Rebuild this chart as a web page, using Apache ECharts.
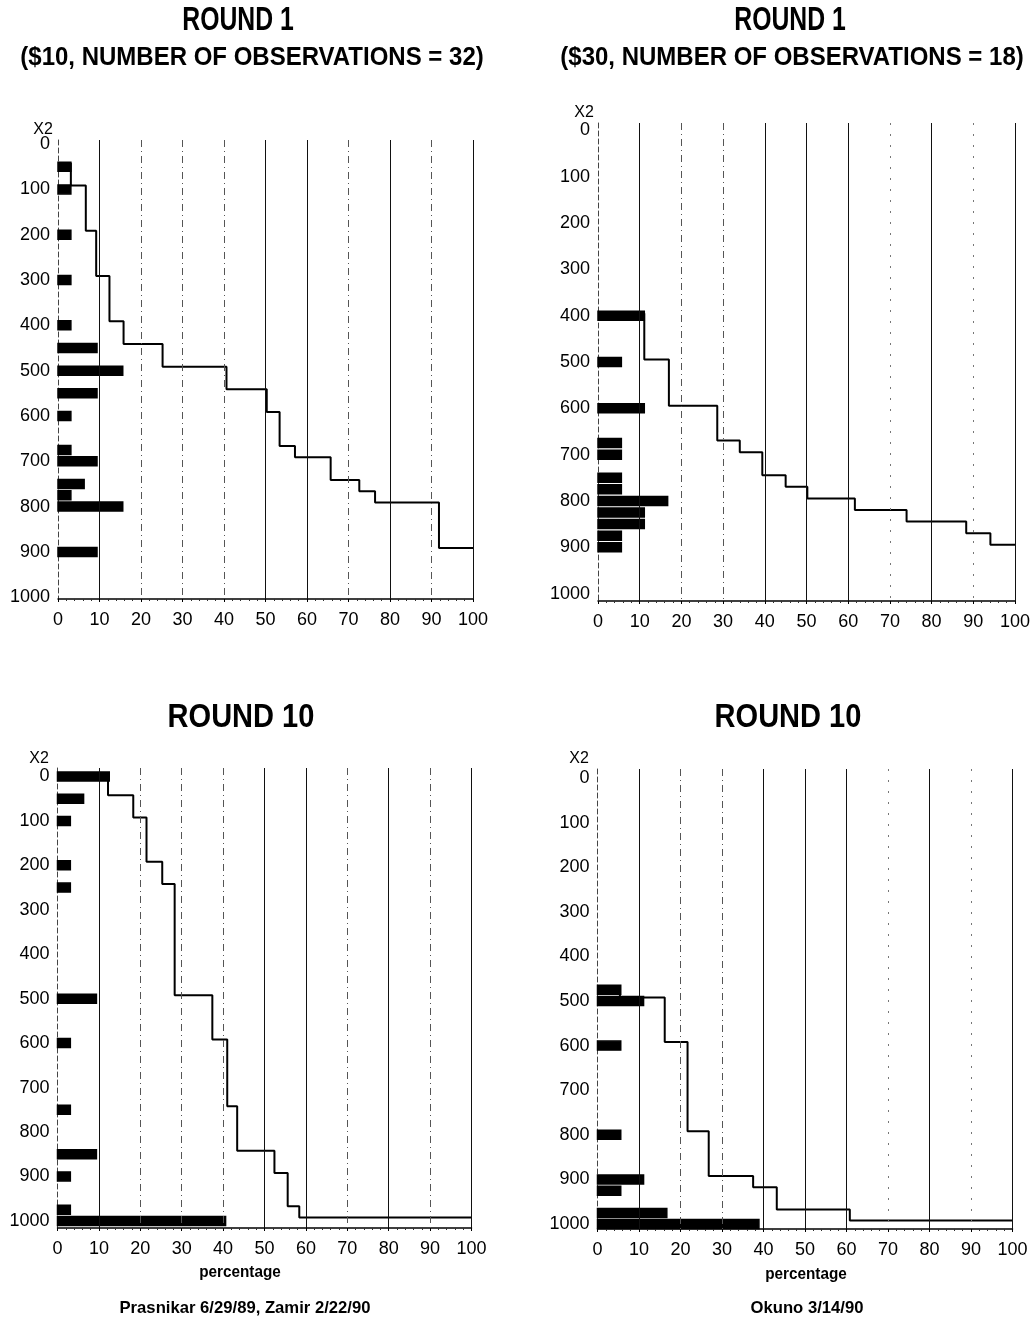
<!DOCTYPE html>
<html>
<head>
<meta charset="utf-8">
<script src="https://cdn.jsdelivr.net/npm/echarts@6/dist/echarts.min.js"></script>
<style>
  html, body { margin: 0; padding: 0; background: #fff; }
  #chart { width: 1033px; height: 1318px; }
</style>
</head>
<body>
<div id="chart"></div>
<script>
// Horizontal axis: percentage of observations
const pctTicks = [0, 10, 20, 30, 40, 50, 60, 70, 80, 90, 100];
// Vertical axis: amount offered to player 2 (x2)
const offerTicks = [0, 100, 200, 300, 400, 500, 600, 700, 800, 900, 1000];

// Round 1, $10 stakes (32 observations)
const r1LowOffers = [50, 100, 200, 300, 400, 450, 500, 550, 600, 675, 700, 750, 775, 800, 900];
const r1LowShare  = [3.1, 3.1, 3.1, 3.1, 3.1, 9.4, 15.6, 9.4, 3.1, 3.1, 9.4, 6.3, 3.1, 15.6, 9.4];
const r1LowCum    = [3.1, 6.7, 9.2, 12.4, 15.8, 25.2, 40.6, 50.3, 53.4, 57.1, 65.7, 72.6, 76.4, 91.8, 100];

// Round 1, $30 stakes (18 observations)
const r1HighOffers = [400, 500, 600, 675, 700, 750, 775, 800, 825, 850, 875, 900];
const r1HighShare  = [11.1, 5.6, 11.1, 5.6, 5.6, 5.6, 5.6, 16.7, 11.1, 11.1, 5.6, 5.6];
const r1HighCum    = [11.1, 17.0, 28.6, 34.0, 39.4, 45.0, 50.2, 61.6, 74.0, 88.3, 94.1, 100];

// Round 10, $10 stakes
const r10LowOffers = [0, 50, 100, 200, 250, 500, 600, 750, 850, 900, 975, 1000];
const r10LowShare  = [12.5, 6.3, 3.1, 3.1, 3.1, 9.4, 3.1, 3.1, 9.4, 3.1, 3.1, 40.6];
const r10LowCum    = [12.2, 18.3, 21.5, 25.3, 28.3, 37.4, 41.0, 43.4, 52.4, 55.6, 58.4, 100];

// Round 10, $30 stakes
const r10HighOffers = [475, 500, 600, 800, 900, 925, 975, 1000];
const r10HighShare  = [5.6, 11.1, 5.6, 5.6, 11.1, 5.6, 16.7, 38.9];
const r10HighCum    = [5.4, 16.2, 21.7, 26.8, 37.5, 43.2, 60.8, 100];

const FONT = '"Liberation Sans", "DejaVu Sans", sans-serif';

// Panel layout: plot box, vertical range, gridline styles
const panels = [
  { offers: r1LowOffers, share: r1LowShare, cum: r1LowCum,
    box: { left: 58, top: 140, width: 415, height: 459 }, yMin: -9, yMax: 1004, shift: 4,
    solid: [10, 50, 60, 80, 100], dashed: [20, 30, 40, 70, 90], sparse: [] },
  { offers: r1HighOffers, share: r1HighShare, cum: r1HighCum,
    box: { left: 598, top: 123, width: 417, height: 478 }, yMin: -16, yMax: 1016, shift: 2.5,
    solid: [10, 40, 50, 60, 80, 100], dashed: [20, 30], sparse: [70, 90] },
  { offers: r10LowOffers, share: r10LowShare, cum: r10LowCum,
    box: { left: 57.5, top: 768, width: 414, height: 460 }, yMin: -19, yMax: 1016, shift: 3.5,
    solid: [10, 50, 60, 80, 100], dashed: [20, 30, 40, 70, 90], sparse: [] },
  { offers: r10HighOffers, share: r10HighShare, cum: r10HighCum,
    box: { left: 597.5, top: 769, width: 415, height: 460 }, yMin: -20, yMax: 1011, shift: 3.5,
    solid: [10, 40, 50, 60, 80, 100], dashed: [20, 30], sparse: [70, 90] }
];

const grid = [], xAxis = [], yAxis = [], series = [];

panels.forEach((p, i) => {
  grid.push(Object.assign({ containLabel: false, outerBoundsMode: 'none' }, p.box));

  xAxis.push({
    gridIndex: i, type: 'value', min: pctTicks[0], max: pctTicks[pctTicks.length - 1], interval: 10,
    axisLine: { show: true, onZero: false, lineStyle: { color: '#000', width: 1.5 } },
    axisTick: { show: true, length: 3, lineStyle: { color: '#000' } },
    minorTick: { show: true, splitNumber: 5, length: 2, lineStyle: { color: '#333' } },
    splitLine: { show: false },
    axisLabel: { color: '#000', fontSize: 18, fontFamily: FONT, margin: 12 }
  });

  // bars and tick labels
  yAxis.push({
    gridIndex: i, type: 'value', inverse: true, min: p.yMin, max: p.yMax,
    axisLine: { show: true, onZero: false, lineStyle: { color: '#444', width: 1, type: [5, 3] } },
    axisTick: { show: false },
    splitLine: { show: false },
    axisLabel: { customValues: offerTicks, formatter: v => String(v),
                 color: '#000', fontSize: 18, fontFamily: FONT, margin: 8 }
  });
  // step line sits a few pixels above the bar centres
  const d = p.shift * (p.yMax - p.yMin) / p.box.height;
  yAxis.push({
    gridIndex: i, type: 'value', inverse: true, min: p.yMin + d, max: p.yMax + d, show: false
  });

  const gridLines = []
    .concat(p.solid.map(v => ({ xAxis: v, lineStyle: { type: 'solid', color: '#111', width: 1 } })))
    .concat(p.dashed.map(v => ({ xAxis: v, lineStyle: { type: [7, 4, 1, 4], color: '#555', width: 1 } })))
    .concat(p.sparse.map(v => ({ xAxis: v, lineStyle: { type: [2, 9], color: '#777', width: 1 } })));

  series.push({
    type: 'custom', xAxisIndex: i, yAxisIndex: 2 * i, z: 3,
    data: p.offers.map((o, k) => [p.share[k], o]),
    encode: { x: 0, y: 1 },
    renderItem: (params, api) => {
      const y = api.value(1);
      const a = api.coord([0, y]);
      const b = api.coord([api.value(0), y]);
      return {
        type: 'rect',
        shape: { x: a[0], y: a[1] - 4.5, width: b[0] - a[0], height: 9 },
        style: { fill: '#000', stroke: '#000', lineWidth: 1.5 }
      };
    },
    markLine: {
      silent: true, symbol: ['none', 'none'], label: { show: false },
      animation: false, data: gridLines
    }
  });

  series.push({
    type: 'line', xAxisIndex: i, yAxisIndex: 2 * i + 1, z: 4,
    step: 'start', symbol: 'none', clip: false,
    data: p.cum.map((c, k) => [c, p.offers[k]]),
    lineStyle: { color: '#000', width: 2 }
  });
});

// centred text; sx narrows the glyphs horizontally
function txt(x, y, text, font, sx) {
  return { type: 'text', x: x, y: y, scaleX: sx || 1,
           style: { text: text, font: font, fill: '#000', align: 'center', verticalAlign: 'middle' } };
}

const graphic = [
  txt(238, 21, 'ROUND 1', 'bold 33px ' + FONT, 0.75),
  txt(252, 58, '($10, NUMBER OF OBSERVATIONS = 32)', 'bold 25px ' + FONT, 0.96),
  txt(790, 21, 'ROUND 1', 'bold 33px ' + FONT, 0.75),
  txt(792, 58, '($30, NUMBER OF OBSERVATIONS = 18)', 'bold 25px ' + FONT, 0.96),
  txt(241, 718, 'ROUND 10', 'bold 33px ' + FONT, 0.88),
  txt(788, 718, 'ROUND 10', 'bold 33px ' + FONT, 0.88),
  txt(43, 130, 'X2', '16px ' + FONT),
  txt(584, 113, 'X2', '16px ' + FONT),
  txt(39, 759, 'X2', '16px ' + FONT),
  txt(579, 759, 'X2', '16px ' + FONT),
  txt(240, 1272, 'percentage', 'bold 17px ' + FONT, 0.9),
  txt(806, 1274, 'percentage', 'bold 17px ' + FONT, 0.9),
  txt(245, 1308, 'Prasnikar 6/29/89, Zamir 2/22/90', 'bold 17px ' + FONT, 0.98),
  txt(807, 1308, 'Okuno 3/14/90', 'bold 17px ' + FONT, 0.98)
];

const chart = echarts.init(document.getElementById('chart'), null, { renderer: 'canvas' });
chart.setOption({
  animation: false,
  backgroundColor: '#fff',
  grid: grid, xAxis: xAxis, yAxis: yAxis, series: series, graphic: graphic
});
</script>
</body>
</html>
